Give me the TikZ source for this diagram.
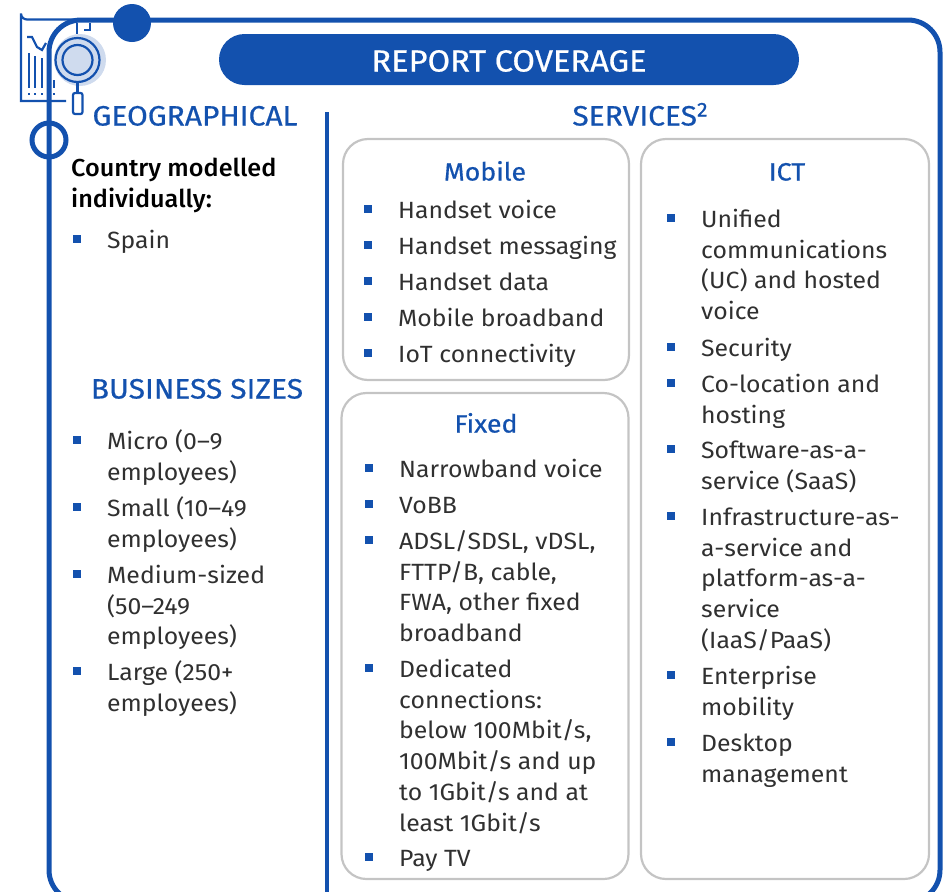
\documentclass[tikz,border=0pt]{standalone}
\usepackage{fontspec}
\setmainfont[FakeStretch=1.055]{Fira Sans}
\newfontfamily\medfont[FakeStretch=1.03]{Fira Sans Medium}
\newfontfamily\headfont[FakeStretch=1.07,FakeBold=0.6]{Fira Sans}
\definecolor{brand}{HTML}{1351AE}
\definecolor{halo}{HTML}{CFDBEE}
\definecolor{boxgrey}{HTML}{C4C4C4}
\definecolor{bodytext}{HTML}{303030}
\tikzset{
  frameline/.style={draw=brand,line width=5pt},
  iconline/.style={draw=brand,line width=2.2pt},
  panel/.style={draw=boxgrey,line width=2.2pt,rounded corners=25pt},
  bul/.style={fill=brand,inner sep=0pt,minimum size=8pt,shape=rectangle},
  item/.style={anchor=north west,inner sep=0pt,align=left,text=bodytext,font=\fontsize{23.5}{30.8}\selectfont},
  head/.style={anchor=base,inner sep=0pt,text=brand,font=\fontsize{28}{30}\headfont},
  sub/.style={anchor=base,inner sep=0pt,text=brand,font=\fontsize{25}{30}\headfont},
}
\newcommand\Li[5]{%
  \node[bul] (b#1) at (#2,#4-9.5) {};
  \node[item] (t#1) at (#3,#4-21.56) {\strut #5};
}
\begin{document}
\begin{tikzpicture}[x=1pt,y=-1pt]
\useasboundingbox (0,0) rectangle (946,892);
\clip (0,0) rectangle (946,892);
% icon
\fill[halo] (80,60) circle (26);
\draw[iconline] (75,19.5) -- (27,19.5) arc (90:180:6) -- (21,101) -- (66,101);
\draw[iconline] (77.5,60) circle (22);
\draw[iconline] (77.5,60) circle (15);
\draw[iconline] (77,23) -- (77,34);
\draw[iconline] (84,30) -- (90,30) -- (90,23);
\draw[iconline] (77.5,82) -- (77.5,93);
\draw[iconline,rounded corners=2pt] (73,93) rectangle (82.5,114);
\draw[iconline] (27,37) -- (32,37) -- (37,47) -- (42,50) -- (46,43);
\foreach \bx/\by in {29/53,35/56,42/58,54/80}{\draw[iconline] (\bx,\by) -- (\bx,88);}
\foreach \bx in {29,35,42,48,54}{\fill[brand] (\bx-1.2,92.5) rectangle (\bx+1.2,95);}
% frame
\draw[frameline,rounded corners=32pt] (49,150) -- (49,20) -- (940,20) -- (940,902) -- (49,902) -- cycle;
\fill[brand] (132,23) circle (19);
\node[draw=brand,line width=5pt,circle,minimum size=34pt,inner sep=0pt,fill=none] (ring) at (49,140) {};
% divider
\coordinate (divtop) at (327,112);
\coordinate (divbot) at (327,892);
\draw[brand,line width=3.5pt] (divtop) -- (divbot);
% title
\node[fill=brand,rounded corners=25.5pt,minimum width=580pt,minimum height=51pt,inner sep=0pt] (pill) at (509,59.5) {};
\node[anchor=base,inner sep=0pt,text=white,font=\fontsize{30.5}{34}\headfont] (title) at (509,71.5) {REPORT COVERAGE};
% panels
\node[panel,minimum width=286pt,minimum height=241pt,inner sep=0pt] (mobile) at (486,259.5) {};
\node[panel,minimum width=287pt,minimum height=486pt,inner sep=0pt] (fixed) at (485,636) {};
\node[panel,minimum width=288pt,minimum height=740pt,inner sep=0pt] (ict) at (785,509) {};
% headings
\node[head] (geo) at (195,125.5) {GEOGRAPHICAL};
\node[head] (biz) at (197,398.5) {BUSINESS SIZES};
\node[head] (serv) at (640,125.5) {SERVICES\raisebox{9pt}{\fontsize{20}{20}\headfont 2}};
\node[sub] (hm) at (485,180.5) {Mobile};
\node[sub] (hf) at (486,432.5) {Fixed};
\node[sub] (hi) at (787,180.5) {ICT};
% left column
\node[anchor=north west,inner sep=0pt,align=left,text=black,font=\fontsize{24.5}{30.8}\medfont] (country) at (71,154.44) {\strut Country modelled\\individually:};
\Li{sp}{77}{107}{248}{Spain}
\Li{s1}{77}{107}{449}{Micro (0–9\\employees)}
\Li{s2}{77}{107}{516}{Small (10–49\\employees)}
\Li{s3}{77}{107}{583}{Medium-sized\\(50–249\\employees)}
\Li{s4}{77}{107}{680}{Large (250+\\employees)}
% mobile
\Li{m1}{368}{398}{218}{Handset voice}
\Li{m2}{368}{398}{254}{Handset messaging}
\Li{m3}{368}{398}{290}{Handset data}
\Li{m4}{368}{398}{326}{Mobile broadband}
\Li{m5}{368}{398}{362}{IoT connectivity}
% fixed
\Li{f1}{369}{399}{477}{Narrowband voice}
\Li{f2}{369}{399}{513}{VoBB}
\Li{f3}{369}{399}{549}{ADSL/SDSL, vDSL,\\FTTP/B, cable,\\FWA, other fixed\\broadband}
\Li{f4}{369}{399}{677}{Dedicated\\connections:\\below 100Mbit/s,\\100Mbit/s and up\\to 1Gbit/s and at\\least 1Gbit/s}
\Li{f5}{369}{399}{866}{Pay TV}
% ict
\Li{i1}{671}{701}{227}{Unified\\communications\\(UC) and hosted\\voice}
\Li{i2}{671}{701}{356}{Security}
\Li{i3}{671}{701}{392}{Co-location and\\hosting}
\Li{i4}{671}{701}{458}{Software-as-a-\\service (SaaS)}
\Li{i5}{671}{701}{525}{Infrastructure-as-\\a-service and\\platform-as-a-\\service\\(IaaS/PaaS)}
\Li{i6}{671}{701}{684}{Enterprise\\mobility}
\Li{i7}{671}{701}{751}{Desktop\\management}
\end{tikzpicture}
\end{document}
